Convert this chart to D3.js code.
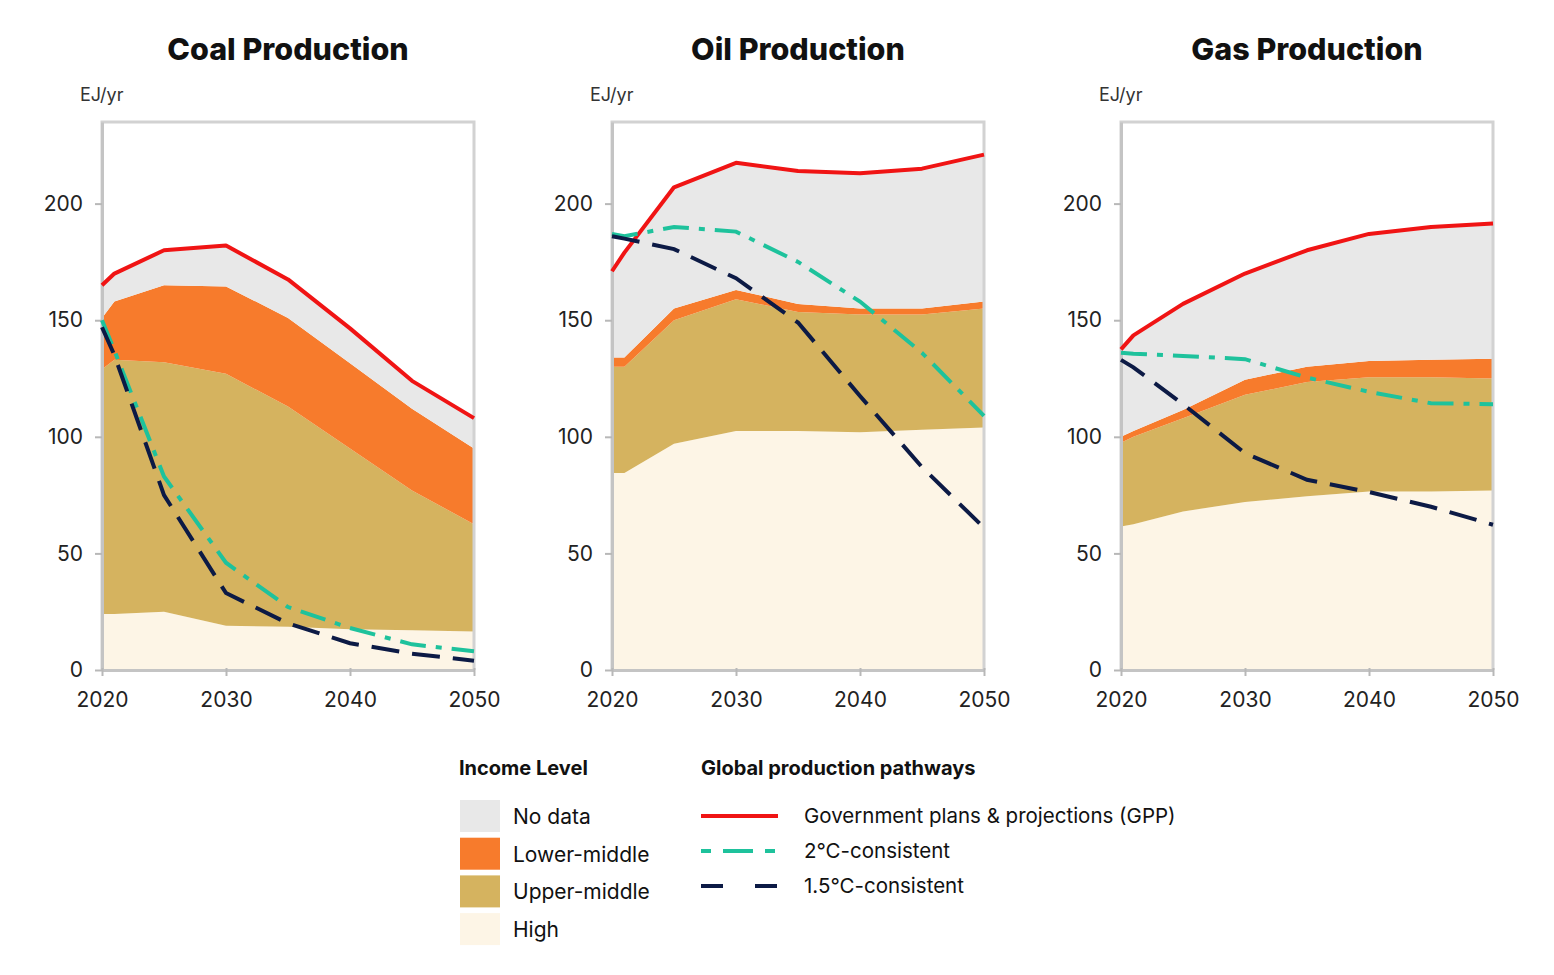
<!DOCTYPE html>
<html>
<head>
<meta charset="utf-8">
<script src="https://cdn.jsdelivr.net/npm/d3@7"></script>
<style>
  body { margin: 0; background: #fff; }
  svg { display: block; }
</style>
</head>
<body>
<svg id="chart" width="1554" height="975"></svg>
<script>
// ---- Data ----
const years = [2020, 2021, 2025, 2030, 2035, 2040, 2045, 2050];
const fuels = ["Coal Production", "Oil Production", "Gas Production"];
const incomeKeys = ["high", "upperMiddle", "lowerMiddle", "noData"];
const incomeLabels = ["No data", "Lower-middle", "Upper-middle", "High"];
const pathwayLabels = ["Government plans & projections (GPP)", "2°C-consistent", "1.5°C-consistent"];
const yTicks = [0, 50, 100, 150, 200];
const xTicks = [2020, 2030, 2040, 2050];

// Income-level production (EJ/yr), stacked
const coalHigh        = [24, 24, 25, 19, 18.5, 17.5, 17, 16.5];
const coalUpperMiddle = [105, 109, 107, 108, 94.5, 77.5, 60, 46];
const coalLowerMiddle = [22, 25, 33, 37.5, 38, 36.5, 35, 32.5];
const coalNoData      = [14, 12, 15, 17.5, 17, 15, 12, 13];

const oilHigh        = [84.5, 84.5, 97, 102.5, 102.5, 102, 103, 104];
const oilUpperMiddle = [45.5, 45.5, 53, 56.5, 51, 50.5, 49.5, 51];
const oilLowerMiddle = [4, 4, 5, 4, 3.5, 2.5, 2.5, 3];
const oilNoData      = [37, 45, 52, 54.5, 57, 58, 60, 63];

const gasHigh        = [61.5, 62.5, 68, 72, 74.5, 76.5, 76.5, 77];
const gasUpperMiddle = [36, 37.5, 40, 46, 49, 49, 49, 48];
const gasLowerMiddle = [2.5, 2.5, 3.5, 6.5, 6.5, 7, 7.5, 8.5];
const gasNoData      = [37.5, 41, 45.5, 45.5, 50, 54.5, 57, 58];

// Global production pathways (EJ/yr)
const coalGPP  = [165, 170, 180, 182, 167.5, 146.5, 124, 108];
const coal2C   = [150, 137, 83, 46, 27, 18, 11, 8];
const coal15C  = [147, 135, 75, 33, 20, 11.5, 7, 4];

const oilGPP   = [171, 179, 207, 217.5, 214, 213, 215, 221];
const oil2C    = [187, 186, 190, 188, 175, 158, 136, 109];
const oil15C   = [186, 185, 180.5, 168, 149, 117.5, 87, 61];

const gasGPP   = [137.5, 143.5, 157, 170, 180, 187, 190, 191.5];
const gas2C    = [136, 135.6, 134.7, 133.3, 125.4, 119.3, 114.4, 114];
const gas15C   = [133, 129.8, 114, 93, 81.6, 76.3, 70, 62.3];

// ---- Build panel tables ----
function table(h, um, lm, nd) {
  return years.map((y, i) => ({ year: y, high: h[i], upperMiddle: um[i], lowerMiddle: lm[i], noData: nd[i] }));
}
const panels = [
  { title: fuels[0], income: table(coalHigh, coalUpperMiddle, coalLowerMiddle, coalNoData), gpp: coalGPP, c2: coal2C, c15: coal15C },
  { title: fuels[1], income: table(oilHigh, oilUpperMiddle, oilLowerMiddle, oilNoData), gpp: oilGPP, c2: oil2C, c15: oil15C },
  { title: fuels[2], income: table(gasHigh, gasUpperMiddle, gasLowerMiddle, gasNoData), gpp: gasGPP, c2: gas2C, c15: gas15C }
];

// ---- Styles ----
const incomeColors = { noData: "#e8e8e8", lowerMiddle: "#f77b2c", upperMiddle: "#d5b35f", high: "#fdf5e6" };
const legendIncomeColors = ["#e8e8e8", "#f77b2c", "#d5b35f", "#fdf5e6"];
const cRed = "#f01414", cTeal = "#1ec29c", cNavy = "#0c1a45";
const fontMain = "'Inter', 'Roboto', sans-serif";

const svg = d3.select("#chart");
const plotW = 372, plotH = 548, plotTop = 122;
const panelX = [102, 612, 1121];

const stack = d3.stack().keys(incomeKeys);

panels.forEach((p, i) => {
  const g = svg.append("g").attr("transform", `translate(${panelX[i]},${plotTop})`);
  const x = d3.scaleLinear().domain([2020, 2050]).range([0, plotW]);
  const y = d3.scaleLinear().domain([0, 235]).range([plotH, 0]);

  // Title
  svg.append("text")
    .attr("x", panelX[i] + plotW / 2).attr("y", 60)
    .attr("text-anchor", "middle")
    .style("font-family", fontMain).style("font-weight", 800).style("font-size", "30.5px")
    .style("fill", "#111")
    .text(p.title);

  // Unit
  svg.append("text")
    .attr("x", panelX[i] - 22).attr("y", 101)
    .style("font-family", fontMain).style("font-size", "18px").style("fill", "#333")
    .text("EJ/yr");

  // Stacked areas
  const series = stack(p.income);
  const area = d3.area().x(d => x(d.data.year)).y0(d => y(d[0])).y1(d => y(d[1]));
  g.selectAll("path.area").data(series).enter().append("path")
    .attr("class", "area")
    .attr("d", area)
    .attr("fill", d => incomeColors[d.key]);

  // Frame
  g.append("path")
    .attr("d", `M0,${plotH}V0H${plotW}V${plotH}`)
    .attr("fill", "none").attr("stroke", "#d2d2d2").attr("stroke-width", 3);

  // Axes
  const yAxis = d3.axisLeft(y).tickValues(yTicks).tickSize(7).tickSizeOuter(0).tickPadding(12);
  const ya = g.append("g").call(yAxis);
  const xAxis = d3.axisBottom(x).tickValues(xTicks).tickFormat(d3.format("d")).tickSize(6).tickSizeOuter(0).tickPadding(16);
  const xa = g.append("g").attr("transform", `translate(0,${plotH})`).call(xAxis);
  [ya, xa].forEach(a => {
    a.select(".domain").attr("stroke", "#c4c4c4").attr("stroke-width", 3);
    a.selectAll(".tick line").attr("stroke", "#b8b8b8").attr("stroke-width", 2);
    a.selectAll(".tick text").style("font-family", fontMain).style("font-size", "21px").style("fill", "#222");
  });
  xa.selectAll(".tick line").attr("y1", -2);

  // Lines
  const line = d3.line().x((d, k) => x(years[k])).y(d => y(d));
  g.append("path").datum(p.gpp).attr("d", line)
    .attr("fill", "none").attr("stroke", cRed).attr("stroke-width", 4).attr("stroke-linejoin", "round");
  g.append("path").datum(p.c2).attr("d", line)
    .attr("fill", "none").attr("stroke", cTeal).attr("stroke-width", 4)
    .attr("stroke-dasharray", "26,10,6,10");
  g.append("path").datum(p.c15).attr("d", line)
    .attr("fill", "none").attr("stroke", cNavy).attr("stroke-width", 4)
    .attr("stroke-dasharray", "28,13");
});

// ---- Legend: Income Level ----
const legX = 460;
svg.append("text").attr("x", legX - 1).attr("y", 775)
  .style("font-family", fontMain).style("font-weight", 700).style("font-size", "20px").style("fill", "#111")
  .text("Income Level");
incomeLabels.forEach((lab, k) => {
  const yy = 800 + k * 37.7;
  svg.append("rect").attr("x", legX).attr("y", yy).attr("width", 40).attr("height", 32)
    .attr("fill", legendIncomeColors[k]);
  svg.append("text").attr("x", 513).attr("y", yy + 24)
    .style("font-family", fontMain).style("font-size", "21px").style("fill", "#111")
    .text(lab);
});

// ---- Legend: pathways ----
svg.append("text").attr("x", 701).attr("y", 775)
  .style("font-family", fontMain).style("font-weight", 700).style("font-size", "20px").style("fill", "#111")
  .text("Global production pathways");
const legLineStyles = [
  { color: cRed, dash: null },
  { color: cTeal, dash: "10,12,30,12,10" },
  { color: cNavy, dash: "22,32,22" }
];
pathwayLabels.forEach((lab, k) => {
  const yy = 816 + k * 35;
  const ln = svg.append("line").attr("x1", 701).attr("x2", 778).attr("y1", yy).attr("y2", yy)
    .attr("stroke", legLineStyles[k].color).attr("stroke-width", 4);
  if (legLineStyles[k].dash) ln.attr("stroke-dasharray", legLineStyles[k].dash);
  svg.append("text").attr("x", 804).attr("y", yy + 7)
    .style("font-family", fontMain).style("font-size", "20.5px").style("fill", "#111")
    .text(lab);
});
</script>
</body>
</html>
